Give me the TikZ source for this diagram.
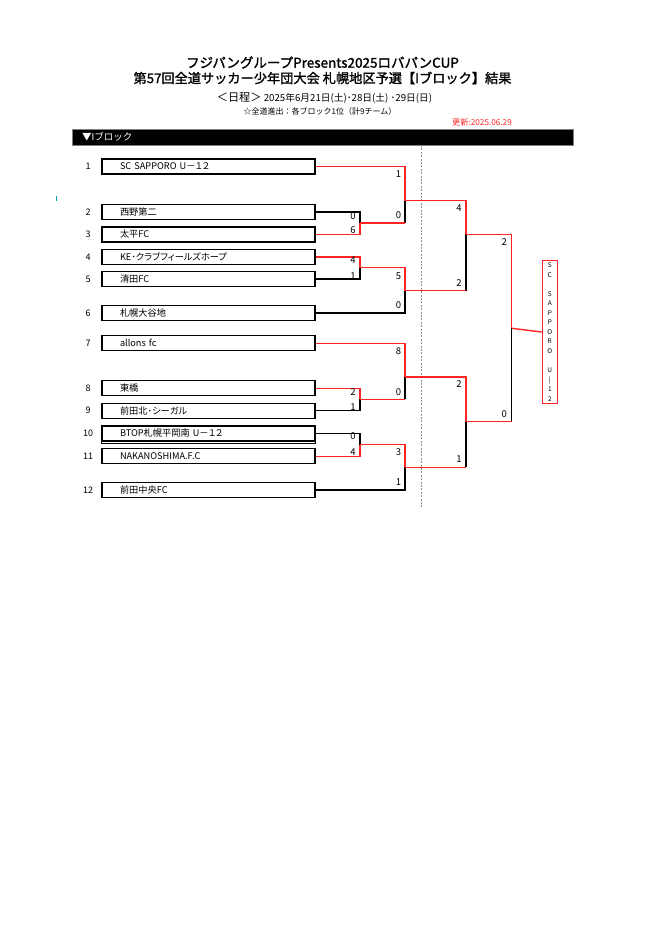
\documentclass[tikz,border=0pt]{standalone}
\usepackage{fontspec}
\setmainfont{Noto Sans CJK JP}
\newfontfamily\jpb[FakeBold=1.5]{Noto Sans CJK JP}
\newfontfamily\jpp[RawFeature=+palt]{Noto Sans CJK JP}
\definecolor{lnred}{HTML}{FF2424}
\definecolor{dashgray}{HTML}{8C8C8C}
\tikzset{
  team/.style={draw=black, line width=1.3pt, minimum width=213pt, minimum height=15pt,
    inner ysep=0pt, inner xsep=18pt, text width=177pt, align=left,
    font=\jpp\fontsize{9.2}{9.2}\selectfont},
  num/.style={inner sep=0pt, font=\fontsize{9}{9}\selectfont},
  score/.style={inner sep=0pt, font=\fontsize{9.5}{9.5}\selectfont},
  lossln/.style={draw=black, line width=1.4pt},
  winln/.style={draw=lnred, line width=1.4pt},
}
\begin{document}
\begin{tikzpicture}[x=1pt,y=-1pt]
\useasboundingbox (0,0) rectangle (666,942);
\fill[white] (0,0) rectangle (666,942);

% titles
\node[inner sep=0pt, font=\jpb\fontsize{13.5}{13.5}\selectfont] (title1) at (322.5,62.5) {フジパングループPresents2025ロバパンCUP};
\node[inner sep=0pt, font=\jpb\fontsize{13.2}{13.2}\selectfont] (title2) at (322.5,78) {第57回全道サッカー少年団大会 札幌地区予選【Iブロック】結果};
\node[inner sep=0pt, font=\fontsize{9.7}{9.7}\selectfont] (sched) at (324.5,97.5) {{\fontsize{11.2}{11.2}\selectfont ＜日程＞} 2025年6月21日(土)･28日(土) ･29日(日)};
\node[inner sep=0pt, font=\fontsize{8}{8}\selectfont] (note) at (320,111.5) {☆全道進出：各ブロック1位（計9チーム）};
\node[inner sep=0pt, text=lnred, font=\fontsize{8.2}{8.2}\selectfont] (upd) at (482,122.7) {更新:2025.06.29};

% header bar
\node[fill=black, draw=gray, line width=0.6pt, minimum width=501pt, minimum height=16pt, inner sep=0pt, anchor=north west] (bar) at (72,129) {};
\node[inner sep=0pt, anchor=west, text=white, font=\fontsize{9.5}{9.5}\selectfont] (bartxt) at (82,137) {▼Iブロック};

% dashed divider
\coordinate (dtop) at (421,145);
\coordinate (dbot) at (421,508);
\draw[dashgray, line width=0.9pt, dash pattern=on 2pt off 1.4pt] (dtop) -- (dbot);

% small mark
\fill[teal!70!cyan] (56,196) rectangle (57.4,201);

% teams
\node[team] (t1) at (208.5,166.5) {SC SAPPORO U－１２};
\node[team] (t2) at (208.5,212) {西野第二};
\node[team] (t3) at (208.5,234.5) {太平FC};
\node[team] (t4) at (208.5,257) {KE･クラブフィールズホープ};
\node[team] (t5) at (208.5,279) {清田FC};
\node[team] (t6) at (208.5,313) {札幌大谷地};
\node[team] (t7) at (208.5,343.3) {allons fc};
\node[team] (t8) at (208.5,388.3) {東橋};
\node[team] (t9) at (208.5,410.7) {前田北･シーガル};
\node[team] (t10) at (208.5,433.5) {BTOP札幌平岡南 U－１２};
\node[team] (t11) at (208.5,456.3) {NAKANOSHIMA.F.C};
\node[team] (t12) at (208.5,490) {前田中央FC};
\draw[black, line width=1.1pt] (t10.south west) -- ++(0,2) -| (t10.south east);

% seed numbers
\foreach \py/\nv [count=\i] in {166.5/1, 212/2, 234.5/3, 257/4, 279/5, 313/6, 343.3/7, 388.3/8, 410.7/9, 433.5/10, 456.3/11, 490/12}
  \node[num] (n\i) at (88,\py) {\nv};

% junctions
\coordinate (j23) at (360,223);
\coordinate (j45) at (360,267.5);
\coordinate (j89) at (360,399.3);
\coordinate (jTE) at (360,444.5);
\coordinate (jA) at (405,200.7);
\coordinate (jB) at (405,290.5);
\coordinate (jC) at (405,377);
\coordinate (jD) at (405,467.3);
\coordinate (jE) at (466,234.3);
\coordinate (jF) at (466,421.7);
\coordinate (jG) at (511.7,328.3);

% winner box
\node[draw=lnred, line width=1.2pt, minimum width=15pt, minimum height=142.7pt, inner sep=0pt, align=center,
  font=\fontsize{6.5}{9.55}\selectfont] (win) at (549.8,332)
  {S\\C\\[9.55pt]S\\A\\P\\P\\O\\R\\O\\[9.55pt]U\\|\\1\\2};

% losing lines
\draw[lossln] (t2.east) -| (j23);
\draw[lossln] (t5.east) -| (j45);
\draw[lossln] (t9.east) -| (j89);
\draw[lossln] (t10.east) -| (jTE);
\draw[lossln] (j23 -| jA) -- (jA);
\draw[lossln] (t6.east) -| (jB);
\draw[lossln] (j89 -| jC) -- (jC);
\draw[lossln] (t12.east) -| (jD);
\draw[lossln] (jB -| jE) -- (jE);
\draw[lossln] (jD -| jF) -- (jF);
\draw[lossln] (jF -| jG) -- (jG);

% winning lines
\draw[winln] (t3.east) -| (j23);
\draw[winln] (t4.east) -| (j45);
\draw[winln] (t8.east) -| (j89);
\draw[winln] (t11.east) -| (jTE);
\draw[winln] (t1.east) -| (jA);
\draw[winln] (j23) -- (j23 -| jA);
\draw[winln] (j45) -| (jB);
\draw[winln] (t7.east) -| (jC);
\draw[winln] (j89) -- (j89 -| jC);
\draw[winln] (jTE) -| (jD);
\draw[winln] (jA) -| (jE);
\draw[winln] (jB) -- (jB -| jE);
\draw[winln] (jC) -| (jF);
\draw[winln] (jD) -- (jD -| jF);
\draw[winln] (jE) -| (jG);
\draw[winln] (jF) -- (jF -| jG);
\draw[winln] (jG) -- (win.west);

% scores
\foreach \px/\py/\sv [count=\i] in {
  353/215.7/0, 353/230.3/6, 353/260/4, 353/275.7/1, 353/392.3/2, 353/407.3/1, 353/436/0, 353/451.7/4,
  398.5/174/1, 398.5/215.3/0, 398.5/275.7/5, 398.5/305.3/0, 398.5/350.7/8, 398.5/391.7/0, 398.5/452.3/3, 398.5/482.3/1,
  459/208.3/4, 459/283.3/2, 459/384.3/2, 459/459.3/1,
  504.3/241.7/2, 504.3/414.3/0}
  \node[score] (s\i) at (\px,\py) {\sv};
\end{tikzpicture}
\end{document}
